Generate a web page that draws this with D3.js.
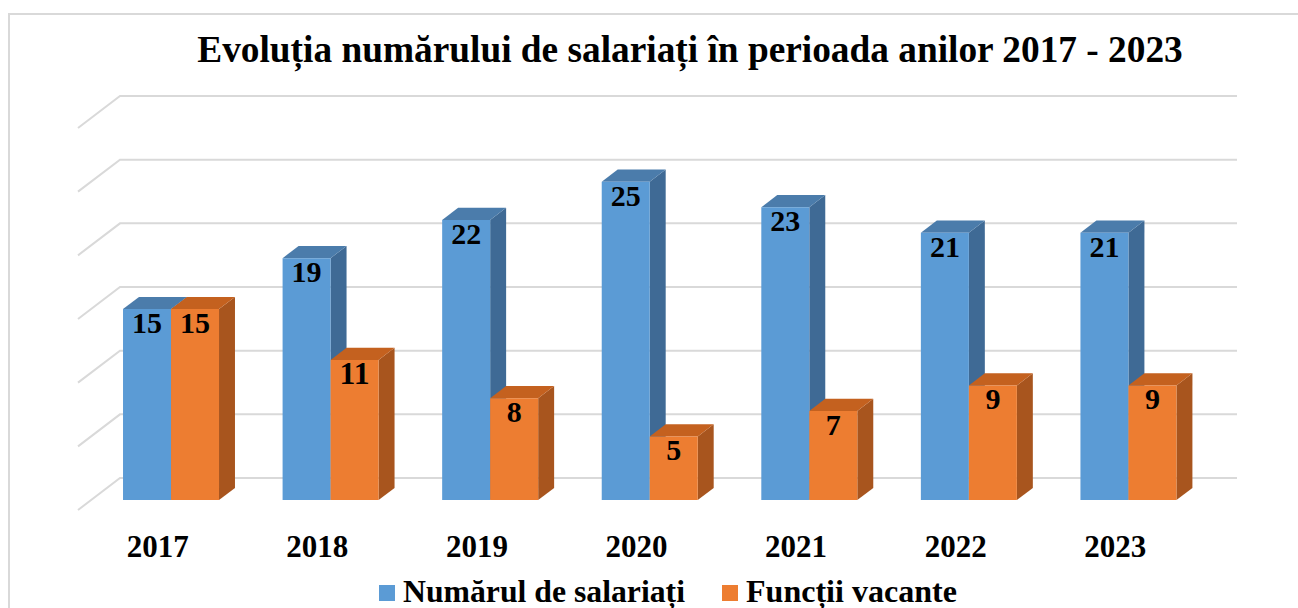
<!DOCTYPE html>
<html lang="ro">
<head>
<meta charset="utf-8">
<title>Evoluția numărului de salariați</title>
<script src="https://d3js.org/d3.v7.min.js"></script>
<style>
	body { margin: 0; padding: 0; background: #fff; }
	svg { display: block; }
</style>
</head>
<body>
<div id="chart"></div>
<script>
	// data
	var years = ["2017", "2018", "2019", "2020", "2021", "2022", "2023"];
	var salariati = [15, 19, 22, 25, 23, 21, 21];
	var vacante = [15, 11, 8, 5, 7, 9, 9];
	var seriesNames = ["Numărul de salariați", "Funcții vacante"];
	var gridTicks = [0, 5, 10, 15, 20, 25, 30];

	var W = 1298, H = 608;
	var FONT = "'Liberation Serif', 'DejaVu Serif', serif";

	// colors: front, top, side
	var colors = {
		"Numărul de salariați": { front: "#5b9bd5", top: "#4b7cab", side: "#3f6a95" },
		"Funcții vacante": { front: "#ed7d31", top: "#c4611f", side: "#a8551e" }
	};

	// 3D-ish layout
	var floorY = 510;        // value 0 at front of floor
	var depthX = 42, depthY = 32; // full depth offset (front -> back wall)
	var barD0 = 0.31, barD1 = 0.69;

	var svg = d3.select("#chart").append("svg")
		.attr("width", W)
		.attr("height", H)
		.attr("font-family", FONT)
		.attr("font-weight", "bold");

	// shrink/grow a text so it spans the width seen in the picture
	function fit(sel, target) {
		sel.each(function () {
			var fs = parseFloat(this.getAttribute("font-size"));
			var w = this.getComputedTextLength();
			if (w > 0) this.setAttribute("font-size", (fs * target / w).toFixed(2));
		});
	}

	// outer frame (runs past the right and bottom edge)
	svg.append("rect")
		.attr("x", 9).attr("y", 14)
		.attr("width", W + 20).attr("height", H + 20)
		.attr("fill", "none")
		.attr("stroke", "#d9d9d9")
		.attr("stroke-width", 2);

	var x = d3.scaleBand().domain(years).range([78, 1195]);
	var xSub = d3.scaleBand().domain(seriesNames).range([32, 128]);
	var h = d3.scaleLinear().domain([0, 30]).range([0, 382]);

	function proj(px, v, d) {
		return [px + d * depthX, floorY - h(v) - d * depthY];
	}

	// gridlines: back wall + left wall diagonals
	var grid = svg.append("g").attr("class", "grid")
		.attr("stroke", "#d9d9d9")
		.attr("stroke-width", 2)
		.attr("fill", "none");

	gridTicks.forEach(function (t) {
		var a = proj(x.range()[0], t, 0),
			b = proj(x.range()[0], t, 1),
			c = proj(x.range()[1], t, 1);
		grid.append("path").attr("d", "M" + a + "L" + b + "L" + c);
	});

	// bars
	var series = [salariati, vacante];
	var bars = svg.append("g");

	years.forEach(function (yr, i) {
		seriesNames.forEach(function (name, s) {
			var v = series[s][i];
			var x0 = x(yr) + xSub(name), x1 = x0 + xSub.bandwidth();
			var col = colors[name];

			var fTL = proj(x0, v, barD0), fTR = proj(x1, v, barD0),
				fBR = proj(x1, 0, barD0), fBL = proj(x0, 0, barD0),
				bTL = proj(x0, v, barD1), bTR = proj(x1, v, barD1),
				bBR = proj(x1, 0, barD1);

			var g = bars.append("g");
			// side face
			g.append("path")
				.attr("d", "M" + fTR + "L" + bTR + "L" + bBR + "L" + fBR + "Z")
				.attr("fill", col.side);
			// top face
			g.append("path")
				.attr("d", "M" + fTL + "L" + bTL + "L" + bTR + "L" + fTR + "Z")
				.attr("fill", col.top);
			// front face
			g.append("path")
				.attr("d", "M" + fTL + "L" + fTR + "L" + fBR + "L" + fBL + "Z")
				.attr("fill", col.front);
			// value label
			g.append("text")
				.attr("class", "val")
				.attr("x", (fTL[0] + fTR[0]) / 2)
				.attr("y", fTL[1] + 24)
				.attr("text-anchor", "middle")
				.attr("font-size", 30)
				.text(v);
		});
	});
	fit(svg.selectAll("text.val").filter(function () { return this.textContent.length == 2; }), 30);
	fit(svg.selectAll("text.val").filter(function () { return this.textContent.length == 1; }), 15);

	// category labels
	var cat = svg.append("g").selectAll("text")
		.data(years)
		.join("text")
		.attr("x", function (d) { return x(d) + x.bandwidth() / 2; })
		.attr("y", 557)
		.attr("text-anchor", "middle")
		.attr("font-size", 31)
		.text(function (d) { return d; });
	fit(cat, 62);

	// title
	var title = svg.append("text")
		.attr("x", 690)
		.attr("y", 62)
		.attr("text-anchor", "middle")
		.attr("font-size", 35)
		.text("Evoluția numărului de salariați în perioada anilor 2017 - 2023");
	fit(title, 986);

	// legend
	var legendX = [379, 722];
	var legendW = [282, 211];
	var legend = svg.append("g");
	seriesNames.forEach(function (name, s) {
		legend.append("rect")
			.attr("x", legendX[s]).attr("y", 585)
			.attr("width", 16).attr("height", 16)
			.attr("fill", colors[name].front);
		var t = legend.append("text")
			.attr("x", legendX[s] + 24)
			.attr("y", 602)
			.attr("font-size", 30)
			.text(name);
		fit(t, legendW[s]);
	});
</script>
</body>
</html>
